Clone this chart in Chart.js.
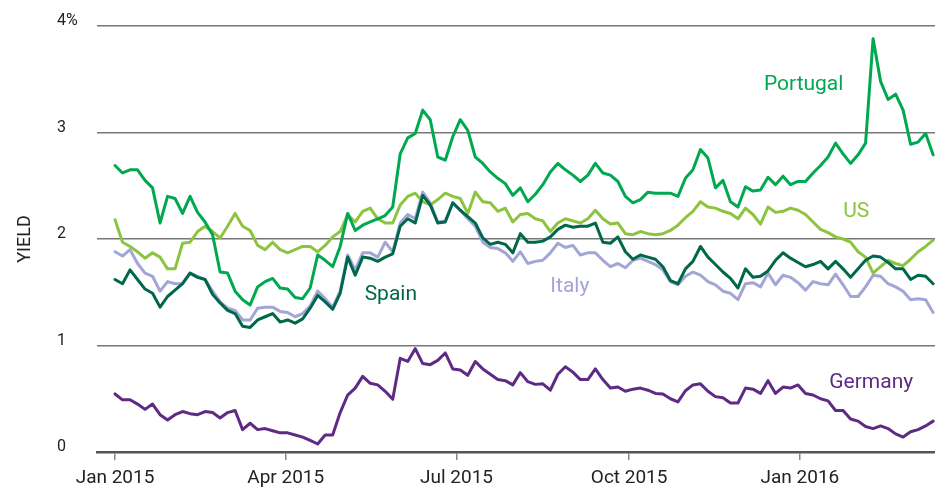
<!DOCTYPE html>
<html>
<head>
<meta charset="utf-8">
<script src="https://cdn.jsdelivr.net/npm/chart.js@4/dist/chart.umd.min.js"></script>
<style>
  html, body { margin: 0; padding: 0; background: #ffffff; }
  #wrap { width: 935px; height: 490px; }
</style>
</head>
<body>
<div id="wrap"><canvas id="c" width="935" height="490"></canvas></div>
<script>
// Sampling grid: day offsets from 2 Jan 2015, one sample every 4 days
const sampleStepDays = 4;
const sampleCount = 110;
const days = Array.from({ length: sampleCount }, (_, i) => i * sampleStepDays);

// 10-year government bond yields (%)
const portugal = [2.69,2.62,2.65,2.65,2.55,2.48,2.15,2.40,2.38,2.24,2.40,2.25,2.16,2.04,1.69,1.68,1.51,1.43,1.38,1.55,
  1.60,1.63,1.54,1.53,1.45,1.44,1.54,1.85,1.80,1.74,1.93,2.24,2.08,2.13,2.16,2.19,2.22,2.30,2.80,2.95,
  2.99,3.21,3.12,2.77,2.74,2.96,3.12,3.02,2.77,2.71,2.63,2.57,2.52,2.41,2.48,2.35,2.42,2.51,2.63,2.71,
  2.65,2.60,2.54,2.60,2.71,2.62,2.60,2.54,2.40,2.34,2.37,2.44,2.43,2.43,2.43,2.40,2.57,2.65,2.84,2.76,
  2.48,2.55,2.35,2.30,2.49,2.45,2.46,2.58,2.51,2.59,2.51,2.54,2.54,2.62,2.69,2.77,2.90,2.80,2.71,2.79,
  2.90,3.88,3.48,3.31,3.36,3.21,2.89,2.91,2.99,2.79];
const us = [2.18,1.97,1.93,1.88,1.82,1.87,1.83,1.72,1.72,1.96,1.97,2.07,2.12,2.07,2.01,2.12,2.24,2.12,2.08,1.94,
  1.90,1.97,1.90,1.87,1.90,1.93,1.93,1.88,1.94,2.02,2.07,2.23,2.16,2.26,2.29,2.19,2.15,2.15,2.32,2.40,
  2.43,2.35,2.32,2.37,2.43,2.40,2.38,2.24,2.44,2.35,2.34,2.26,2.29,2.16,2.23,2.24,2.19,2.17,2.07,2.15,
  2.19,2.17,2.15,2.19,2.27,2.19,2.14,2.15,2.05,2.04,2.07,2.05,2.04,2.05,2.08,2.13,2.20,2.26,2.35,2.30,
  2.29,2.26,2.24,2.19,2.29,2.23,2.14,2.30,2.25,2.26,2.29,2.27,2.23,2.16,2.09,2.06,2.02,2.00,1.97,1.88,
  1.83,1.68,1.74,1.80,1.77,1.75,1.81,1.88,1.93,1.99];
const spain = [1.62,1.58,1.71,1.62,1.53,1.49,1.36,1.46,1.52,1.58,1.68,1.64,1.62,1.48,1.40,1.33,1.30,1.18,1.17,1.24,
  1.27,1.30,1.22,1.24,1.21,1.25,1.35,1.47,1.41,1.34,1.49,1.83,1.66,1.83,1.82,1.79,1.83,1.86,2.12,2.19,
  2.15,2.41,2.32,2.15,2.16,2.34,2.27,2.21,2.15,2.01,1.95,1.97,1.95,1.87,2.05,1.97,1.97,1.98,2.02,2.09,
  2.13,2.11,2.12,2.12,2.15,1.97,1.96,2.02,1.88,1.81,1.85,1.83,1.81,1.74,1.61,1.58,1.72,1.79,1.93,1.83,
  1.76,1.69,1.63,1.54,1.72,1.64,1.65,1.70,1.80,1.87,1.82,1.78,1.74,1.76,1.79,1.72,1.79,1.72,1.64,1.72,
  1.80,1.84,1.83,1.78,1.72,1.72,1.62,1.66,1.65,1.58];
const italy = [1.88,1.84,1.90,1.77,1.68,1.65,1.51,1.60,1.58,1.58,1.68,1.65,1.62,1.51,1.41,1.35,1.33,1.24,1.24,1.35,
  1.36,1.36,1.32,1.31,1.27,1.30,1.37,1.51,1.44,1.36,1.51,1.85,1.71,1.87,1.87,1.83,1.97,1.88,2.15,2.23,
  2.19,2.44,2.34,2.16,2.17,2.34,2.27,2.19,2.12,1.97,1.92,1.91,1.87,1.79,1.88,1.77,1.79,1.80,1.87,1.96,
  1.92,1.94,1.85,1.87,1.87,1.80,1.74,1.77,1.73,1.80,1.82,1.79,1.76,1.71,1.60,1.57,1.65,1.69,1.66,1.60,
  1.57,1.51,1.49,1.43,1.58,1.59,1.55,1.68,1.57,1.66,1.64,1.59,1.52,1.60,1.58,1.57,1.67,1.57,1.46,1.46,
  1.55,1.66,1.65,1.58,1.55,1.51,1.43,1.44,1.43,1.31];
const germany = [0.545,0.49,0.49,0.45,0.40,0.45,0.35,0.30,0.35,0.38,0.36,0.35,0.38,0.37,0.32,0.37,0.39,0.21,0.27,0.21,
  0.22,0.20,0.18,0.18,0.16,0.14,0.11,0.075,0.16,0.16,0.37,0.535,0.60,0.71,0.645,0.63,0.57,0.495,0.88,0.85,
  0.97,0.83,0.82,0.86,0.93,0.78,0.77,0.72,0.85,0.78,0.73,0.68,0.67,0.63,0.745,0.66,0.635,0.64,0.58,0.73,
  0.80,0.75,0.68,0.68,0.78,0.68,0.60,0.61,0.57,0.59,0.60,0.58,0.55,0.545,0.50,0.47,0.575,0.63,0.64,0.57,
  0.52,0.51,0.46,0.46,0.60,0.59,0.55,0.67,0.55,0.61,0.60,0.63,0.55,0.535,0.50,0.48,0.39,0.39,0.31,0.29,
  0.24,0.22,0.245,0.22,0.17,0.14,0.19,0.21,0.245,0.29];

// Axis ticks
const xTickDays = [0, 91, 182, 274, 365];
const xTickLabels = ['Jan 2015', 'Apr 2015', 'Jul 2015', 'Oct 2015', 'Jan 2016'];
const yTickValues = [0, 1, 2, 3, 4];
const yTickLabels = ['0', '1', '2', '3', '4%'];

// Series names
const seriesNames = ['Spain', 'Portugal', 'US', 'Italy', 'Germany'];

// ---- styling / annotation config (not data) ----
const seriesStyle = {
  Spain:    { color: '#00684A', order: 1 },
  Portugal: { color: '#00A84F', order: 2 },
  US:       { color: '#8CC43F', order: 3 },
  Italy:    { color: '#A2A5D6', order: 4 },
  Germany:  { color: '#5E2A84', order: 5 }
};
const seriesValues = { Spain: spain, Portugal: portugal, US: us, Italy: italy, Germany: germany };
// inline label anchors in data space (day, value)
const labelAnchors = {
  Portugal: [367, 3.40],
  US:       [395, 2.21],
  Spain:    [147, 1.43],
  Italy:    [242.4, 1.505],
  Germany:  [403, 0.60]
};

const datasets = seriesNames.map(name => ({
  label: name,
  data: days.map((d, i) => ({ x: d, y: seriesValues[name][i] })),
  borderColor: seriesStyle[name].color,
  borderWidth: 3,
  pointRadius: 0,
  tension: 0,
  fill: false,
  order: seriesStyle[name].order,
  borderJoinStyle: 'round',
  borderCapStyle: 'round'
}));

const labelPlugin = {
  id: 'inlineLabels',
  afterDraw(chart) {
    const { ctx, scales } = chart;
    ctx.save();
    ctx.font = '21px Roboto';
    ctx.textAlign = 'center';
    ctx.textBaseline = 'alphabetic';
    seriesNames.forEach(name => {
      const [d, v] = labelAnchors[name];
      ctx.fillStyle = seriesStyle[name].color;
      ctx.fillText(name, scales.x.getPixelForValue(d), scales.y.getPixelForValue(v));
    });
    // vertical axis title
    ctx.translate(25, (scales.y.top + scales.y.bottom) / 2);
    ctx.rotate(-Math.PI / 2);
    ctx.font = '18px Roboto';
    ctx.fillStyle = '#222222';
    ctx.textBaseline = 'middle';
    ctx.fillText('YIELD', 0, 0);
    ctx.restore();
  }
};

new Chart(document.getElementById('c'), {
  type: 'line',
  data: { datasets },
  plugins: [labelPlugin],
  options: {
    responsive: false,
    animation: false,
    parsing: false,
    normalized: true,
    layout: { padding: { left: 57, right: 0, top: 26, bottom: 0 } },
    plugins: { legend: { display: false }, tooltip: { enabled: false } },
    scales: {
      x: {
        type: 'linear',
        min: -9.6,
        max: 437,
        afterBuildTicks: s => { s.ticks = xTickDays.map(v => ({ value: v })); },
        afterFit: s => { s.height = 38; },
        ticks: {
          callback: (v, i) => xTickLabels[i],
          font: { family: 'Roboto', size: 19 },
          color: '#222222',
          padding: 7,
          maxRotation: 0,
          autoSkip: false
        },
        grid: { drawOnChartArea: false, drawTicks: true, tickLength: 8, color: '#888888', lineWidth: 1.5 },
        border: { display: true, color: '#555555', width: 2.5 }
      },
      y: {
        min: 0,
        max: 4,
        afterBuildTicks: s => { s.ticks = yTickValues.map(v => ({ value: v })); },
        afterFit: s => { s.width = 40; },
        ticks: {
          callback: (v, i) => yTickLabels[i],
          crossAlign: 'far',
          font: { family: 'Roboto', size: 16 },
          color: '#222222',
          labelOffset: -5
        },
        grid: { color: '#777777', lineWidth: 1.5, drawTicks: false },
        border: { display: false }
      }
    }
  }
});
</script>
</body>
</html>
